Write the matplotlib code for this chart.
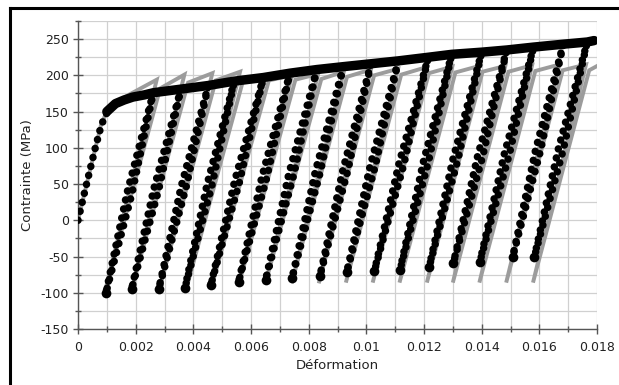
import matplotlib
matplotlib.use('Agg')
import matplotlib.pyplot as plt
from matplotlib.ticker import MultipleLocator
from matplotlib.lines import Line2D

# ---------------- data ----------------
# initial monotonic loading (black dots)
init_strain = [0.0, 0.0001, 0.0002, 0.0004, 0.0006, 0.0008, 0.00095, 0.0011]
init_stress = [0, 17, 34, 67, 100, 130, 145, 154]

# envelope (dense black band)
env_strain = [0.0010, 0.0013, 0.0016, 0.0019, 0.0023, 0.00261, 0.00357, 0.00452, 0.00542,
              0.00643, 0.00735, 0.00828, 0.0092, 0.01016, 0.01111, 0.01215, 0.01296,
              0.01400, 0.01487, 0.0158, 0.01683, 0.01766, 0.0179]
env_stress = [150, 161, 166, 170, 173, 176, 181, 186, 192,
              197, 203, 208, 212, 216, 220, 225, 229,
              232, 235, 239, 243, 246, 248]

# unloading / reloading cycles (black dots)
top_strain = [0.00261, 0.00357, 0.00452, 0.00542, 0.00643, 0.00735, 0.00828, 0.0092,
              0.01016, 0.01111, 0.01215, 0.01296, 0.01400, 0.01487, 0.0158, 0.01683, 0.01766]
top_stress = [176, 181, 186, 192, 197, 203, 208, 212,
              216, 220, 225, 229, 232, 235, 239, 243, 246]
bot_strain = [0.00097, 0.00186, 0.0028, 0.00371, 0.00461, 0.00557, 0.00651, 0.00743,
              0.00839, 0.00932, 0.01028, 0.01117, 0.01218, 0.01302, 0.01394, 0.01508, 0.01583]
bot_stress = [-100, -95, -95, -93, -89, -85, -82, -79,
              -77, -72, -70, -68, -64, -59, -57, -50, -50]

# model (grey line)
g_init_strain = [0.0, 0.0008, 0.0010, 0.0013, 0.0018]
g_init_stress = [0, 132, 150, 162, 174]
g_peak_strain = [0.00273, 0.00369, 0.00466, 0.00562, 0.00650, 0.00742, 0.00833, 0.00922,
                 0.01016, 0.01110, 0.01206, 0.01298, 0.01392, 0.01482, 0.01575, 0.01670, 0.01762]
g_peak_stress = [194, 201, 203, 205, 199, 200, 202, 205,
                 208, 209, 211, 212, 213, 213, 214, 215, 215]
g_bot_strain = [0.00095, 0.00188, 0.00284, 0.00378, 0.00465, 0.00558, 0.00650, 0.00741,
                0.00835, 0.00929, 0.01022, 0.01115, 0.01210, 0.01300, 0.01392, 0.01485, 0.01578]
g_bot_stress = [-96, -93, -92, -91, -89, -88, -87, -87,
                -87, -86, -86, -86, -86, -86, -86, -86, -86]
g_valley_strain = [0.00285, 0.00382, 0.00478, 0.00574, 0.00662, 0.00754, 0.00844, 0.00933,
                   0.01027, 0.01121, 0.01217, 0.01309, 0.01403, 0.01493, 0.01586, 0.01681, 0.01773]
g_valley_stress = [182, 190, 193, 195, 193, 194, 195, 198,
                   200, 201, 203, 204, 205, 205, 206, 207, 207]
g_end_strain = 0.0181
g_end_stress = 215

xtick_vals = [0, 0.002, 0.004, 0.006, 0.008, 0.010, 0.012, 0.014, 0.016, 0.018]
xtick_labels = ["0", "0.002", "0.004", "0.006", "0.008", "0.01", "0.012", "0.014", "0.016", "0.018"]
ytick_vals = [-150, -100, -50, 0, 50, 100, 150, 200, 250]
ytick_labels = ["-150", "-100", "-50", "0", "50", "100", "150", "200", "250"]

# ---------------- figure ----------------
W, H = 619, 385
fig = plt.figure(figsize=(W / 100, H / 100), dpi=100)
fig.patch.set_facecolor('white')
ax = fig.add_axes([78 / W, 1 - 329 / H, (597 - 78) / W, (329 - 21) / H])

grey = '#9c9c9c'
# grey model path
gx = list(g_init_strain)
gy = list(g_init_stress)
n = len(g_peak_strain)
for i in range(n):
    gx += [g_peak_strain[i], g_bot_strain[i], g_valley_strain[i]]
    gy += [g_peak_stress[i], g_bot_stress[i], g_valley_stress[i]]
gx.append(g_end_strain)
gy.append(g_end_stress)
ax.plot(gx, gy, color=grey, lw=2.8, solid_joinstyle='miter', zorder=2)

# black dots
dot_lw = 5.4
pattern = (0.01, 1.22)
ax.plot(init_strain, init_stress, color='black', lw=dot_lw, linestyle=(0, pattern),
        dash_capstyle='round', zorder=3)
ax.plot(env_strain, env_stress, color='black', lw=6.8, solid_capstyle='round',
        solid_joinstyle='round', zorder=3)
off = 0.00009
for i in range(len(top_strain)):
    mx = (top_strain[i] + bot_strain[i]) / 2
    my = (top_stress[i] + bot_stress[i]) / 2
    ax.plot([top_strain[i], mx - off, bot_strain[i]],
            [top_stress[i], my, bot_stress[i]],
            color='black', lw=dot_lw, linestyle=(0, pattern),
            dash_capstyle='round', zorder=3)
    ax.plot([bot_strain[i], mx + off, top_strain[i]],
            [bot_stress[i], my, top_stress[i]],
            color='black', lw=dot_lw, linestyle=(0.6, pattern),
            dash_capstyle='round', zorder=3)
ax.plot(bot_strain, bot_stress, 'o', color='black', ms=7, mew=0, zorder=3)

# axes styling
ax.set_xlim(0, 0.018)
ax.set_ylim(-150, 275)
ax.set_xticks(xtick_vals)
ax.set_xticklabels(xtick_labels)
ax.set_yticks(ytick_vals)
ax.set_yticklabels(ytick_labels)
ax.xaxis.set_minor_locator(MultipleLocator(0.001))
ax.yaxis.set_minor_locator(MultipleLocator(25))
ax.grid(True, which='both', color='#d0d0d0', lw=0.9, zorder=0)
ax.set_axisbelow(True)
for s in ['top', 'right']:
    ax.spines[s].set_visible(False)
for s in ['left', 'bottom']:
    ax.spines[s].set_color('#555555')
    ax.spines[s].set_linewidth(1.0)
ax.tick_params(which='major', direction='inout', length=7, width=1.0, color='#555555',
               labelsize=9, labelcolor='#222222', pad=3)
ax.tick_params(which='minor', direction='inout', length=5, width=1.0, color='#555555')
ax.tick_params(axis='x', which='major', pad=5)
ax.set_xlabel('Déformation', fontsize=9.5, color='#222222', labelpad=4)
ax.set_ylabel('Contrainte (MPa)', fontsize=9.5, color='#222222', labelpad=5)

# outer frame (top and left edges)
fig.add_artist(Line2D([9.7 / W, 1.0], [1 - 7.5 / H, 1 - 7.5 / H], color='black', lw=2.2,
                      transform=fig.transFigure))
fig.add_artist(Line2D([9.7 / W, 9.7 / W], [0.0, 1 - 7.5 / H], color='black', lw=2.2,
                      transform=fig.transFigure))

fig.savefig('out.png', dpi=100)
